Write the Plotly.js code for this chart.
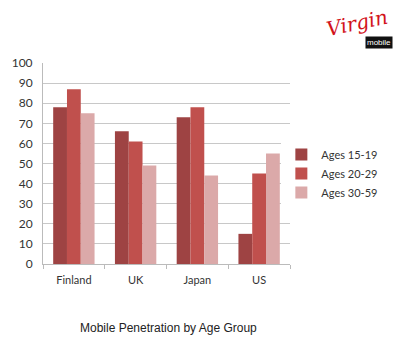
<!DOCTYPE html>
<html>
<head>
<meta charset="utf-8">
<script src="https://cdn.plot.ly/plotly-3.0.1.min.js"></script>
<style>html,body{margin:0;padding:0;background:#fff;}#chart{width:400px;height:342px;}</style>
</head>
<body>
<div id="chart"></div>
<script>
const categories = ["Finland", "UK", "Japan", "US"];
const seriesNames = ["Ages 15-19", "Ages 20-29", "Ages 30-59"];
const ages15to19 = [78, 66, 73, 15];
const ages20to29 = [87, 61, 78, 45];
const ages30to59 = [75, 49, 44, 55];
const yTicks = [0, 10, 20, 30, 40, 50, 60, 70, 80, 90, 100];

const colors = ["#9e4343", "#c0504d", "#dba9a9"];
const values = [ages15to19, ages20to29, ages30to59];

const traces = values.map((v, i) => ({
  type: "bar",
  name: seriesNames[i],
  x: categories,
  y: v,
  marker: { color: colors[i] },
  hoverinfo: "none"
}));

const layout = {
  width: 400,
  height: 342,
  margin: { l: 43, r: 110, t: 63, b: 78, autoexpand: false },
  paper_bgcolor: "#fff",
  plot_bgcolor: "#fff",
  barmode: "group",
  bargap: 0.33,
  bargroupgap: 0,
  font: { family: "Lato, 'Open Sans', sans-serif", size: 12, color: "#333" },
  showlegend: true,
  legend: {
    x: 0.965, y: 0.45, xanchor: "left", yanchor: "middle",
    font: { size: 11, color: "#333" },
    itemwidth: 30,
    tracegroupgap: 0
  },
  xaxis: {
    type: "category",
    showline: true,
    linecolor: "#bbb",
    linewidth: 1,
    ticks: "outside",
    tickson: "boundaries",
    ticklen: 4,
    tickcolor: "#bbb",
    showgrid: false,
    ticklabelstandoff: 6,
    tickfont: { size: 11, color: "#333" }
  },
  yaxis: {
    range: [0, 100],
    tickvals: yTicks,
    ticktext: yTicks.map(String),
    showline: true,
    linecolor: "#bbb",
    linewidth: 1,
    gridcolor: "#c8c8c8",
    zeroline: false,
    ticks: "",
    ticklabelstandoff: 7,
    tickfont: { size: 12, color: "#333" }
  },
  annotations: [
    {
      text: "Mobile Penetration by Age Group",
      xref: "paper", yref: "paper", x: 0.51, y: -0.32,
      xanchor: "center", yanchor: "middle", showarrow: false,
      font: { family: "'Liberation Sans', Arial, sans-serif", size: 12, color: "#222" }
    },
    {
      text: "<i>Virgin</i>",
      xref: "paper", yref: "paper", x: 1.27, y: 1.2,
      xanchor: "center", yanchor: "middle", showarrow: false,
      textangle: -12,
      font: { family: "'DejaVu Serif', serif", size: 20, color: "#d2131b" }
    },
    {
      text: "mobile",
      xref: "paper", yref: "paper", x: 1.36, y: 1.1,
      xanchor: "center", yanchor: "middle", showarrow: false,
      bgcolor: "#111", borderpad: 1,
      font: { family: "'Liberation Sans', Arial, sans-serif", size: 8, color: "#fff" }
    }
  ]
};

Plotly.newPlot("chart", traces, layout, { displayModeBar: false, staticPlot: true });
</script>
</body>
</html>
